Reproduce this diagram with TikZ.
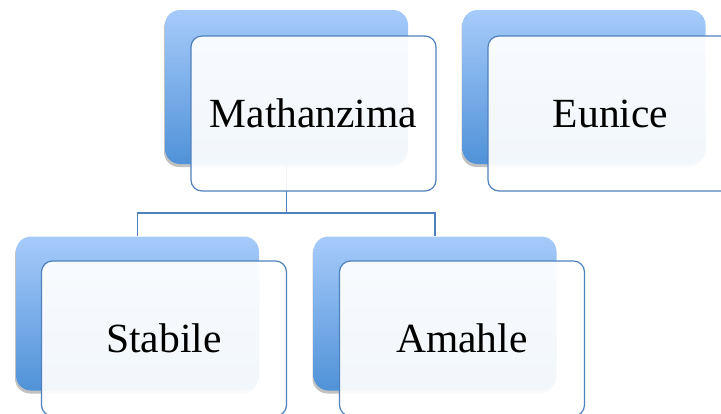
\documentclass[tikz,border=0pt]{standalone}
\usepackage{fontspec}
\setmainfont{Liberation Serif}
\usetikzlibrary{shadows}
\definecolor{bbddff}{RGB}{166,203,250}
\definecolor{5599dd}{RGB}{80,146,216}
\definecolor{4f81bd}{RGB}{79,129,189}
\definecolor{f0f5fc}{RGB}{240,245,252}

\begin{document}
\begin{tikzpicture}[x=1pt,y=-1pt,
		backbox/.style={rounded corners=15pt,minimum width=243pt,minimum height=154pt,top color=bbddff,bottom color=5599dd,
			drop shadow={shadow xshift=-1pt,shadow yshift=-3pt,opacity=0.35,fill=black!70}},
		frontbox/.style={draw=4f81bd,line width=1.2pt,rounded corners=11pt,minimum width=245pt,minimum height=155pt,
			fill=white,fill opacity=0.93,text opacity=1,font=\fontsize{41.5}{48}\selectfont},
		conn/.style={draw=4f81bd,line width=1.4pt}]
		\useasboundingbox (0,0) rectangle (721,413);
		% back boxes
		\node[backbox] (mathB) at (286.5,87) {};
		\node[backbox] (euniB) at (584,87) {};
		\node[backbox] (stabB) at (137.5,313.5) {};
		\node[backbox] (amahB) at (435,313.5) {};
		% connectors
		\coordinate (fork) at (286.5,213);
		\draw[conn] (mathB.south) -- (fork) -| (stabB.north);
		\draw[conn] (fork) -| (amahB.north);
		% front boxes
		\node[frontbox] (mathF) at (313.5,113.5) {Mathanzima};
		\node[frontbox] (euniF) at (610.5,113.5) {Eunice};
		\node[frontbox] (stabF) at (164,338.5) {Stabile};
		\node[frontbox] (amahF) at (462,338.5) {Amahle};
\end{tikzpicture}
\end{document}
